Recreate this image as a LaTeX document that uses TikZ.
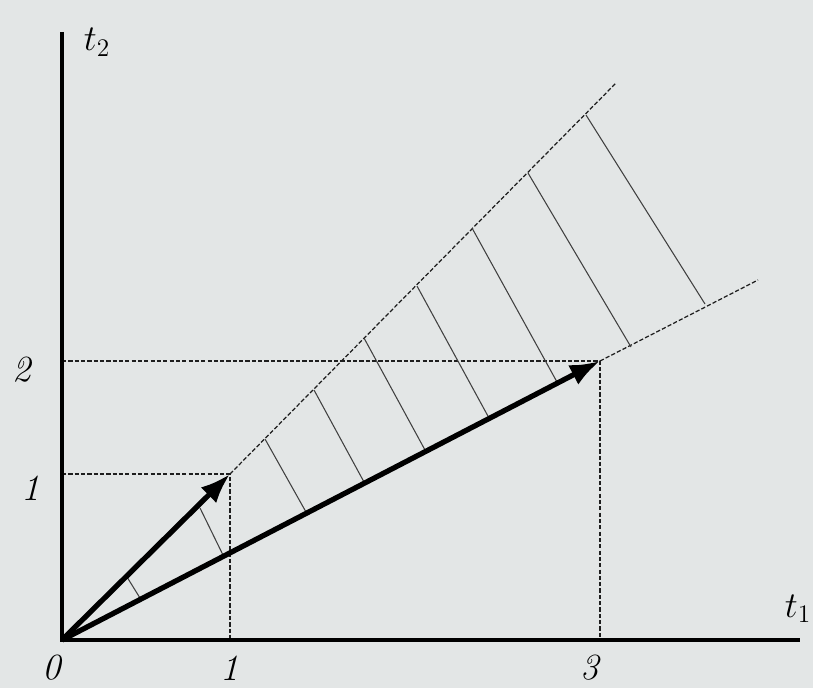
\documentclass[tikz,border=0pt]{standalone}
\usepackage{xcolor}
\definecolor{papel}{RGB}{227, 230, 230}
\definecolor{tinta}{RGB}{30, 30, 30}
\usetikzlibrary{arrows.meta}
\tikzset{
  guia/.style={line width=0.7pt, color=tinta, dash pattern=on 2.4pt off 1.2pt},
  rayado/.style={line width=0.6pt, color=tinta!85},
  eje/.style={line width=2.8pt, color=black, line join=miter},
  flecha/.style={-{Latex[length=6mm, width=4.4mm]}, line width=3pt, color=black},
  etiqueta/.style={font=\fontsize{21}{25}\selectfont\itshape, inner sep=1pt}
}

\begin{document}
\begin{tikzpicture}
  % fondo
  \fill[color = papel] (-1.24,-0.96) rectangle (15.02,12.8);
  \useasboundingbox (-1.24,-0.96) rectangle (15.02,12.8);

  \coordinate (O) at (0,0);
  \coordinate (A) at (3.36,3.32);
  \coordinate (B) at (10.76,5.58);
  \coordinate (U) at (11.08,11.14);
  \coordinate (L) at (13.92,7.2);
  \coordinate (X) at (14.76,0);
  \coordinate (Y) at (0,12.16);

  % lineas de guia
  \draw[guia] (O |- A) -- (A) -- (A |- O);
  \draw[guia] (O |- B) -- (B) -- (B |- O);
  \draw[guia] (A) -- (U);
  \draw[guia] (B) -- (L);

  % rayado del cono
  \draw[rayado] (1.30,1.26) -- (1.56,0.84);
  \draw[rayado] (2.76,2.64) -- (3.22,1.70);
  \draw[rayado] (4.06,4.02) -- (4.88,2.56);
  \draw[rayado] (5.04,5.00) -- (6.04,3.16);
  \draw[rayado] (6.04,6.04) -- (7.26,3.80);
  \draw[rayado] (7.10,7.08) -- (8.54,4.44);
  \draw[rayado] (8.20,8.24) -- (9.90,5.16);
  \draw[rayado] (9.32,9.34) -- (11.38,5.86);
  \draw[rayado] (10.48,10.50) -- (12.86,6.72);

  % ejes
  \draw[eje] (Y) -- (O) -- (X);

  % vectores
  \draw[flecha] (O) -- (A);
  \draw[flecha] (O) -- (B);

  % etiquetas
  \node[etiqueta] (cero) at (-0.2,-0.56) {0};
  \node[etiqueta] (uno x) at (3.36,-0.56) {1};
  \node[etiqueta] (tres x) at (10.56,-0.56) {3};
  \node[etiqueta] (uno y) at (-0.62,3.04) {1};
  \node[etiqueta] (dos y) at (-0.8,5.4) {2};
  \node[etiqueta] (eje t1) at (14.72,0.62) {$t_1$};
  \node[etiqueta] (eje t2) at (0.7,11.95) {$t_2$};
\end{tikzpicture}
\end{document}
